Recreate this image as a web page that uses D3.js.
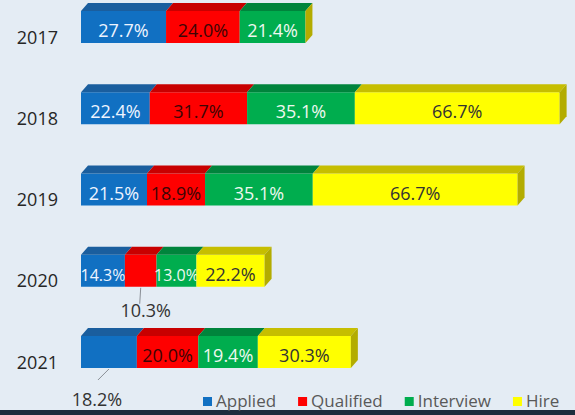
<!DOCTYPE html>
<html>
<head>
<meta charset="utf-8">
<script src="https://cdnjs.cloudflare.com/ajax/libs/d3/7.8.5/d3.min.js"></script>
<style>
  body { margin: 0; padding: 0; background: #e4ecf4; }
  svg { display: block; font-family: "Open Sans", sans-serif; }
</style>
</head>
<body>
<div id="chart"></div>
<script>
const years = ["2017", "2018", "2019", "2020", "2021"];
const stages = ["Applied", "Qualified", "Interview", "Hire"];
const applied = [27.7, 22.4, 21.5, 14.3, 18.2];
const qualified = [24.0, 31.7, 18.9, 10.3, 20.0];
const interview = [21.4, 35.1, 35.1, 13.0, 19.4];
const hire = [0, 66.7, 66.7, 22.2, 30.3];

// labels drawn under the bar with a small leader line
const callouts = [
    { year: "2020", key: "Qualified", lx: -1, ly: 17, tx: 5, ty: 30 },
    { year: "2021", key: "Applied", lx: -11, ly: 12, tx: -12, ty: 38 }
];

const width = 575;
const height = 415;
const barH = 32;
const depthX = 7;
const depthY = 8;

const front = { Applied: "#1170c2", Qualified: "#fe0000", Interview: "#00ad4e", Hire: "#ffff00" };
const topFace = { Applied: "#1a5e9e", Qualified: "#c80000", Interview: "#00843c", Hire: "#c6be00" };
const textCol = { Applied: "#eef4ff", Qualified: "#3d0505", Interview: "#eef8f0", Hire: "#333333" };

const rows = years.map((yr, i) => ({
    year: yr,
    Applied: applied[i],
    Qualified: qualified[i],
    Interview: interview[i],
    Hire: hire[i]
}));

const series = d3.stack().keys(stages)(rows);

const svg = d3.select("#chart")
    .append("svg")
    .attr("width", width)
    .attr("height", height);

svg.append("rect")
    .attr("width", width)
    .attr("height", height)
    .attr("fill", "#e4ecf4");

// dark strip at the very bottom
svg.append("rect")
    .attr("y", 410)
    .attr("width", width)
    .attr("height", 5)
    .attr("fill", "#1d2d3e");

const x = d3.scaleLinear()
    .domain([0, 160])
    .range([81, 81 + 160 * 3.07]);

const y = d3.scalePoint()
    .domain(years)
    .range([27, 352]);

const yAxis = svg.append("g")
    .attr("transform", `translate(${x(0)},0)`)
    .call(d3.axisLeft(y).tickSize(0).tickPadding(23));
yAxis.select(".domain").remove();
yAxis.selectAll("text")
    .attr("dy", 16)
    .style("font-family", "Open Sans, sans-serif")
    .style("font-size", "18px")
    .attr("fill", "#262626");

const layers = svg.selectAll(".layer")
    .data(series)
    .join("g")
    .attr("class", "layer");

layers.selectAll(".front")
    .data(s => s.map(d => Object.assign(d, { key: s.key })))
    .join("rect")
    .attr("class", "front")
    .attr("x", d => x(d[0]))
    .attr("y", d => y(d.data.year) - barH / 2)
    .attr("width", d => x(d[1]) - x(d[0]))
    .attr("height", barH)
    .attr("fill", d => front[d.key]);

layers.selectAll(".top")
    .data(s => s)
    .join("path")
    .attr("class", "top")
    .attr("d", d => {
        const x0 = x(d[0]), x1 = x(d[1]);
        const yt = y(d.data.year) - barH / 2;
        return `M${x0},${yt}L${x1},${yt}L${x1 + depthX},${yt - depthY}L${x0 + depthX},${yt - depthY}Z`;
    })
    .attr("fill", d => topFace[d.key]);

// side face at the end of each bar
svg.selectAll(".side")
    .data(series[series.length - 1])
    .join("path")
    .attr("class", "side")
    .attr("d", d => {
        const x1 = x(d[1]);
        const yt = y(d.data.year) - barH / 2;
        return `M${x1},${yt}L${x1 + depthX},${yt - depthY}L${x1 + depthX},${yt + barH - depthY}L${x1},${yt + barH}Z`;
    })
    .attr("fill", "#b3ac00");

const isCallout = d => callouts.find(c => c.year === d.data.year && c.key === d.key);

layers.selectAll(".label")
    .data(s => s.filter(d => d[1] - d[0] > 0 && !isCallout(d)))
    .join("text")
    .attr("class", "label")
    .attr("x", d => (x(d[0]) + x(d[1])) / 2)
    .attr("y", d => y(d.data.year) + 10)
    .attr("text-anchor", "middle")
    .style("font-size", d => Math.max(16, Math.min(18, (x(d[1]) - x(d[0])) / 2.75)) + "px")
    .attr("fill", d => textCol[d.key])
    .text(d => (d[1] - d[0]).toFixed(1) + "%");

const outside = layers.selectAll(".callout")
    .data(s => s.filter(d => isCallout(d)))
    .join("g")
    .attr("class", "callout");

outside.append("line")
    .attr("x1", d => (x(d[0]) + x(d[1])) / 2)
    .attr("y1", d => y(d.data.year) + barH / 2 + 1)
    .attr("x2", d => (x(d[0]) + x(d[1])) / 2 + isCallout(d).lx)
    .attr("y2", d => y(d.data.year) + barH / 2 + isCallout(d).ly)
    .attr("stroke", "#8a8f96")
    .attr("stroke-width", 1);

outside.append("text")
    .attr("x", d => (x(d[0]) + x(d[1])) / 2 + isCallout(d).tx)
    .attr("y", d => y(d.data.year) + barH / 2 + isCallout(d).ty)
    .attr("text-anchor", "middle")
    .style("font-size", "18px")
    .attr("fill", "#333333")
    .text(d => (d[1] - d[0]).toFixed(1) + "%");

// legend
const legend = svg.append("g")
    .attr("transform", "translate(203,397)");

let xOffset = 0;
const legendItems = legend.selectAll("g")
    .data(stages)
    .join("g");

legendItems.append("rect")
    .attr("width", 9)
    .attr("height", 9)
    .attr("fill", d => front[d]);

legendItems.append("text")
    .attr("x", 13)
    .attr("y", 9.5)
    .style("font-size", "17px")
    .attr("fill", "#595959")
    .text(d => d);

legendItems.attr("transform", function () {
    const w = this.querySelector("text").getComputedTextLength();
    const pos = xOffset;
    xOffset += 13 + w + 22;
    return `translate(${pos},0)`;
});
</script>
</body>
</html>
